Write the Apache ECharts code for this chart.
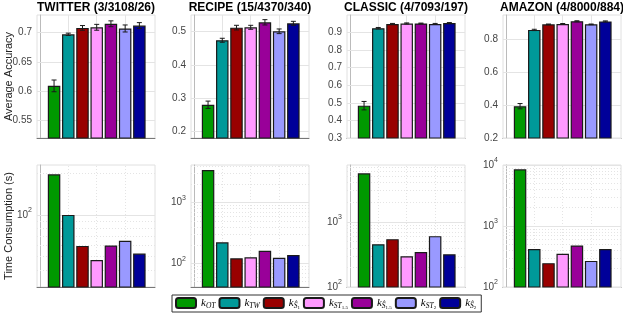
<!DOCTYPE html>
<html><head><meta charset="utf-8">
<script src="https://cdn.jsdelivr.net/npm/echarts@6/dist/echarts.min.js"></script>
<style>html,body{margin:0;padding:0;background:#fff}#c{width:623px;height:315px}</style>
</head><body><div id="c"></div>
<script>
// ---- data ----
const methods = ['kOT','kTW','kS1','kST15','kS15','kST2','kS2'];
const colors = ['#009900','#009999','#990000','#ff99ff','#990099','#9999ff','#000099'];
const datasets = ['TWITTER (3/3108/26)','RECIPE (15/4370/340)','CLASSIC (4/7093/197)','AMAZON (4/8000/884)'];
const xPositions = [1,2,3,4,5,6,7];
const xGridTicks = [2,4,6];

const accTwitter = [0.609,0.697,0.708,0.709,0.715,0.707,0.712];
const errTwitter = [0.010,0.002,0.004,0.005,0.005,0.006,0.005];
const accRecipe  = [0.280,0.474,0.512,0.513,0.528,0.501,0.525];
const errRecipe  = [0.011,0.006,0.007,0.006,0.008,0.007,0.006];
const accClassic = [0.484,0.925,0.949,0.952,0.952,0.949,0.954];
const errClassic = [0.024,0.004,0.003,0.003,0.002,0.003,0.003];
const accAmazon  = [0.394,0.859,0.893,0.895,0.912,0.893,0.911];
const errAmazon  = [0.016,0.004,0.002,0.003,0.003,0.002,0.003];

const timeTwitter = [197,100,59.6,47,60,64.8,52.4];
const timeRecipe  = [3460,222,121,126,161,124,137];
const timeClassic = [5560,454,542,297,345,603,318];
const timeAmazon  = [8500,418,246,350,479,268,418];

const accTicks = [[0.55,0.6,0.65,0.7],[0.2,0.3,0.4,0.5],[0.3,0.4,0.5,0.6,0.7,0.8,0.9],[0.2,0.4,0.6,0.8]];
const accRange = [[0.52,0.73],[0.18,0.55],[0.3,1.0],[0.2,0.95]];
const timeTicks = [[100],[100,1000],[100,1000],[100,1000,10000]];
const timeRange = [[30,230],[40.8,4180],[100,7450],[100,10000]];
const minorMultipliers = [2,3,4,5,6,7,8,9];

const accAll = [accTwitter,accRecipe,accClassic,accAmazon];
const errAll = [errTwitter,errRecipe,errClassic,errAmazon];
const timeAll = [timeTwitter,timeRecipe,timeClassic,timeAmazon];

// ---- layout ----
const lefts = [37,191,347,503];
const W = 118;
const rows = [{top:15,height:123},{top:165,height:122}];

const grid=[], xAxis=[], yAxis=[], series=[], title=[];
const font='Liberation Sans';
const labelMap = {
  kOT:'{k|k}{s|OT}', kTW:'{k|k}{s|TW}', kS1:'{k|k}{s|Ŝ}{ss|1}',
  kST15:'{k|k}{s|ST}{ss|1.5}', kS15:'{k|k}{s|Ŝ}{ss|1.5}',
  kST2:'{k|k}{s|ST}{ss|2}', kS2:'{k|k}{s|Ŝ}{ss|2}'
};

const mctx = document.createElement('canvas').getContext('2d');
mctx.font = 'bold 12px "Liberation Sans"';
for (let p=0;p<4;p++){
  const tw = mctx.measureText(datasets[p]).width;
  title.push({text:datasets[p], left:lefts[p]+W/2-tw/2-2, top:0, padding:2,
    textStyle:{fontSize:12,fontWeight:'bold',color:'#000',fontFamily:font}});
}

for (let r=0;r<2;r++){
  for (let p=0;p<4;p++){
    const g=r*4+p;
    grid.push({left:lefts[p], top:rows[r].top, width:W, height:rows[r].height,
      show:true, borderColor:'#e0e0e0', borderWidth:1, backgroundColor:'transparent', outerBoundsMode:'none'});
    xAxis.push({type:'value', gridIndex:g, min:-0.2, max:8.1,
      axisLine:{show:true, onZero:false, lineStyle:{color:'#777'}},
      axisTick:{show:false}, axisLabel:{show:false}, splitLine:{show:false}});
    const isLog = r===1;
    const ticks = isLog? timeTicks[p] : accTicks[p];
    const rng = isLog? timeRange[p] : accRange[p];
    const ya = {type: isLog?'log':'value', gridIndex:g, min:rng[0], max:rng[1],
      axisLine:{show:true, lineStyle:{color:'#bbb'}},
      axisTick:{show:true, inside:true, length:3, customValues:ticks, lineStyle:{color:'#888'}},
      splitLine:{show:false},
      axisLabel:{customValues:ticks, color:'#444', fontSize:10, fontFamily:font, margin:5}};
    if (isLog){
      ya.logBase=10;
      ya.axisLabel.formatter = v => '{b|10}{sup|'+Math.round(Math.log10(v))+'}';
      ya.axisLabel.rich = {b:{fontSize:10,color:'#444',fontFamily:font}, sup:{fontSize:7,color:'#444',fontFamily:font,verticalAlign:'top',lineHeight:16}};
    }
    if (p===0){
      ya.name = isLog? 'Time Consumption (s)' : 'Average Accuracy';
      ya.nameLocation='middle';
      ya.nameMoveOverlap=false;
      ya.nameGap = 23;
      ya.nameTextStyle={fontSize:11,color:'#222',fontFamily:font};
    }
    yAxis.push(ya);

    // grid lines
    const ml=[];
    ticks.forEach(v=>ml.push({yAxis:v, lineStyle:{color:'#e4e4e4',type:'solid',width:1}}));
    if (isLog){
      for (let d=1; d<=4; d++){
        minorMultipliers.forEach(m=>{
          const v=m*Math.pow(10,d);
          if (v>rng[0] && v<rng[1]) ml.push({yAxis:v, lineStyle:{color:'#e4e4e4',type:[1,2],width:1}});
        });
      }
    }
    xGridTicks.forEach(v=>ml.push({xAxis:v, lineStyle:{color:'#e4e4e4',type: isLog?[1,2]:'solid',width:1}}));

    const vals = isLog? timeAll[p] : accAll[p];
    methods.forEach((m,i)=>{
      const s={type:'bar', name:m, xAxisIndex:g, yAxisIndex:g,
        data:[[xPositions[i], vals[i]]], barWidth:12.5, barGap:'-100%',
        itemStyle:{color:colors[i], borderColor:'#1a1a1a', borderWidth:1.2},
        clip:true, animation:false, z:3};
      if (i===0){
        s.markLine={silent:true, symbol:'none', label:{show:false}, animation:false, z:1, data:ml};
      }
      series.push(s);
    });

    if (!isLog){
      const eb = vals.map((v,i)=>[xPositions[i], v-errAll[p][i], v+errAll[p][i]]);
      series.push({type:'custom', xAxisIndex:g, yAxisIndex:g, data:eb, z:5, animation:false,
        encode:{x:0,y:[1,2]},
        renderItem:(params, api)=>{
          const x=api.value(0);
          const lo=api.coord([x, api.value(1)]);
          const hi=api.coord([x, api.value(2)]);
          const w=2.5; const st={stroke:'#1a1a1a', lineWidth:1};
          return {type:'group', children:[
            {type:'line', shape:{x1:lo[0],y1:lo[1],x2:hi[0],y2:hi[1]}, style:st},
            {type:'line', shape:{x1:lo[0]-w,y1:lo[1],x2:lo[0]+w,y2:lo[1]}, style:st},
            {type:'line', shape:{x1:hi[0]-w,y1:hi[1],x2:hi[0]+w,y2:hi[1]}, style:st}
          ]};
        }});
    }
  }
}

const option = {
  animation:false,
  backgroundColor:'#fff',
  title, grid, xAxis, yAxis, series,
  legend:{data:methods, left:172, top:295, orient:'horizontal', itemWidth:20, itemHeight:10, itemGap:3,
    padding:[2,5,2,3], borderColor:'#333', borderWidth:1, selectedMode:false,
    formatter: n=>labelMap[n],
    textStyle:{rich:{
      k:{fontFamily:'Liberation Serif',fontStyle:'italic',fontSize:11,color:'#000'},
      s:{fontFamily:'Liberation Serif',fontStyle:'italic',fontSize:7.5,color:'#000',verticalAlign:'bottom',lineHeight:14},
      ss:{fontFamily:'Liberation Serif',fontSize:5,color:'#000',verticalAlign:'bottom',lineHeight:14}
    }}}
};
const chart = echarts.init(document.getElementById('c'), null, {renderer:'canvas'});
chart.setOption(option);
</script></body></html>
